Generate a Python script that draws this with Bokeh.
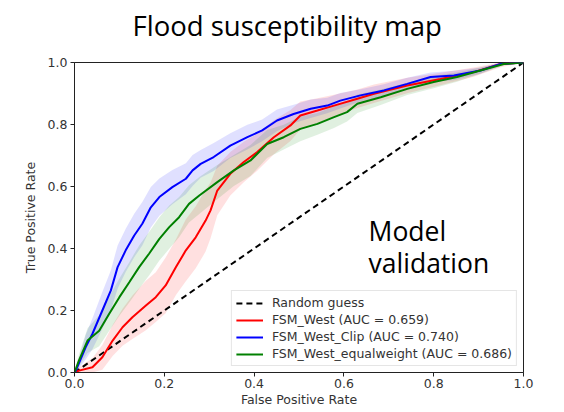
from bokeh.plotting import figure
from bokeh.layouts import column
from bokeh.models import Label, FixedTicker, Legend, LegendItem, CustomJSTickFormatter
from bokeh.embed import file_html
from bokeh.resources import INLINE

# ---- data ----
blue_x = [0, 0.003, 0.025, 0.040, 0.062, 0.081, 0.096, 0.114, 0.133, 0.151, 0.170, 0.189, 0.218, 0.248, 0.263,
          0.281, 0.310, 0.347, 0.385, 0.418, 0.451, 0.488, 0.526, 0.563, 0.592, 0.637, 0.689, 0.741, 0.793,
          0.845, 0.904, 0.949, 1.0]
blue_y = [0, 0.006, 0.082, 0.125, 0.200, 0.265, 0.340, 0.394, 0.442, 0.480, 0.533, 0.566, 0.598, 0.625, 0.652,
          0.673, 0.695, 0.732, 0.759, 0.781, 0.813, 0.834, 0.851, 0.861, 0.877, 0.894, 0.910, 0.931, 0.953,
          0.958, 0.974, 0.995, 1.0]
blue_hw = [0, 0.005, 0.04, 0.05, 0.06, 0.065, 0.07, 0.07, 0.07, 0.07, 0.065, 0.06, 0.055, 0.05, 0.05,
           0.045, 0.045, 0.04, 0.04, 0.035, 0.035, 0.03, 0.03, 0.025, 0.025, 0.02, 0.02, 0.02, 0.015,
           0.015, 0.01, 0.005, 0]

green_x = [0, 0.010, 0.029, 0.055, 0.077, 0.100, 0.122, 0.144, 0.166, 0.189, 0.211, 0.233, 0.255, 0.278,
           0.318, 0.355, 0.392, 0.429, 0.466, 0.503, 0.541, 0.578, 0.607, 0.630, 0.682, 0.741, 0.800,
           0.852, 0.904, 0.956, 1.0]
green_y = [0, 0.039, 0.103, 0.135, 0.189, 0.243, 0.291, 0.340, 0.383, 0.431, 0.469, 0.501, 0.544, 0.571,
           0.614, 0.652, 0.684, 0.737, 0.759, 0.786, 0.802, 0.824, 0.840, 0.867, 0.888, 0.915, 0.937,
           0.953, 0.974, 0.995, 1.0]
green_hw = [0, 0.02, 0.04, 0.05, 0.055, 0.06, 0.065, 0.07, 0.07, 0.07, 0.07, 0.065, 0.06, 0.06,
            0.055, 0.05, 0.05, 0.045, 0.04, 0.04, 0.035, 0.035, 0.03, 0.03, 0.025, 0.02, 0.02,
            0.015, 0.01, 0.005, 0]

red_x = [0, 0.010, 0.040, 0.062, 0.085, 0.107, 0.129, 0.159, 0.181, 0.203, 0.226, 0.248, 0.270, 0.292,
         0.303, 0.318, 0.347, 0.377, 0.407, 0.444, 0.481, 0.503, 0.541, 0.578, 0.630, 0.667, 0.741,
         0.815, 0.889, 0.949, 1.0]
red_y = [0, 0.006, 0.017, 0.049, 0.103, 0.146, 0.178, 0.216, 0.243, 0.281, 0.340, 0.394, 0.436, 0.490,
         0.523, 0.587, 0.641, 0.679, 0.711, 0.759, 0.797, 0.829, 0.845, 0.861, 0.883, 0.899, 0.926,
         0.947, 0.969, 0.995, 1.0]
red_hw = [0, 0.01, 0.03, 0.04, 0.05, 0.06, 0.07, 0.08, 0.08, 0.09, 0.09, 0.10, 0.10, 0.10,
          0.09, 0.08, 0.07, 0.065, 0.06, 0.055, 0.05, 0.045, 0.04, 0.035, 0.03, 0.03, 0.025,
          0.02, 0.015, 0.01, 0]

random_x = [0, 1]
random_y = [0, 1]

series_labels = ["Random guess", "FSM_West (AUC = 0.659)", "FSM_West_Clip (AUC = 0.740)",
                 "FSM_West_equalweight (AUC = 0.686)"]
ticks = [0.0, 0.2, 0.4, 0.6, 0.8, 1.0]
title_text = "Flood susceptibility map"

# ---- title strip (a bare figure holding the heading text) ----
# its frame is aligned with the chart frame below (left edge at 74px, 449px wide)
TH = 44
tfig = figure(width=548, height=TH, output_backend="svg", toolbar_location=None,
              x_range=(0, 449), y_range=(TH, 0), min_border=0,
              x_axis_location=None, y_axis_location=None)
tfig.grid.visible = False
tfig.outline_line_color = None
tfig.add_layout(Label(x=58, y=25, text=title_text, text_font="Open Sans",
                      text_font_size="27.5px", text_baseline="alphabetic", text_color="#000000"))

# ---- main chart ----
p = figure(width=548, height=410 - TH, output_backend="svg", toolbar_location=None,
           x_range=(0, 1), y_range=(0, 1),
           min_border_left=74, min_border_right=25, min_border_top=62 - TH, min_border_bottom=38)

p.xgrid.visible = False
p.ygrid.visible = False
p.outline_line_color = "#222222"
p.outline_line_width = 1

def band(xs, ys, hw, color):
    lo = [max(0, y - h) for y, h in zip(ys, hw)]
    hi = [min(1, y + h) for y, h in zip(ys, hw)]
    p.varea(x=xs, y1=lo, y2=hi, fill_color=color, fill_alpha=0.12)

band(red_x, red_y, red_hw, "#ff0000")
band(blue_x, blue_y, blue_hw, "#0000ff")
band(green_x, green_y, green_hw, "#008000")

r0 = p.line(random_x, random_y, line_color="black", line_width=2, line_dash="6 4")
r1 = p.line(red_x, red_y, line_color="#ff0000", line_width=2)
r2 = p.line(blue_x, blue_y, line_color="#0000ff", line_width=2)
r3 = p.line(green_x, green_y, line_color="#008000", line_width=2)

legend = Legend(items=[LegendItem(label=series_labels[0], renderers=[r0]),
                       LegendItem(label=series_labels[1], renderers=[r1]),
                       LegendItem(label=series_labels[2], renderers=[r2]),
                       LegendItem(label=series_labels[3], renderers=[r3])],
                location="bottom_right")
legend.label_text_font = "DejaVu Sans"
legend.label_text_font_size = "12.5px"
legend.label_text_color = "#333333"
legend.label_height = 14
legend.glyph_height = 14
legend.glyph_width = 27
legend.label_standoff = 9
legend.spacing = 2
legend.padding = 4
legend.margin = 6
legend.border_line_color = "#cccccc"
legend.background_fill_alpha = 0.85
p.add_layout(legend)

for ax in (p.xaxis, p.yaxis):
    ax.ticker = FixedTicker(ticks=ticks)
    ax.minor_tick_line_color = None
    ax.major_tick_out = 4
    ax.major_tick_in = 0
    ax.major_label_text_font = "DejaVu Sans"
    ax.major_label_text_font_size = "12.5px"
    ax.major_label_text_color = "#333333"
    ax.axis_label_text_font = "DejaVu Sans"
    ax.axis_label_text_font_size = "12.5px"
    ax.axis_label_text_font_style = "normal"
    ax.axis_label_text_color = "#333333"
    ax.axis_line_color = "#222222"
    ax.major_tick_line_color = "#222222"
    ax.formatter = CustomJSTickFormatter(code="return tick.toFixed(1);")

p.xaxis.major_label_standoff = 2
p.xaxis.axis_label_standoff = 1
p.yaxis.major_label_standoff = 3
p.yaxis.axis_label_standoff = 7
p.xaxis.axis_label = "False Positive Rate"
p.yaxis.axis_label = "True Positive Rate"

p.add_layout(Label(x=0.655, y=0.456, text="Model", text_font="Open Sans",
                   text_font_size="26.5px", text_baseline="alphabetic", text_color="#000000"))
p.add_layout(Label(x=0.655, y=0.352, text="validation", text_font="Open Sans",
                   text_font_size="26.5px", text_baseline="alphabetic", text_color="#000000"))

layout = column(tfig, p, spacing=0)
open("out.html", "w").write(file_html(layout, INLINE))
